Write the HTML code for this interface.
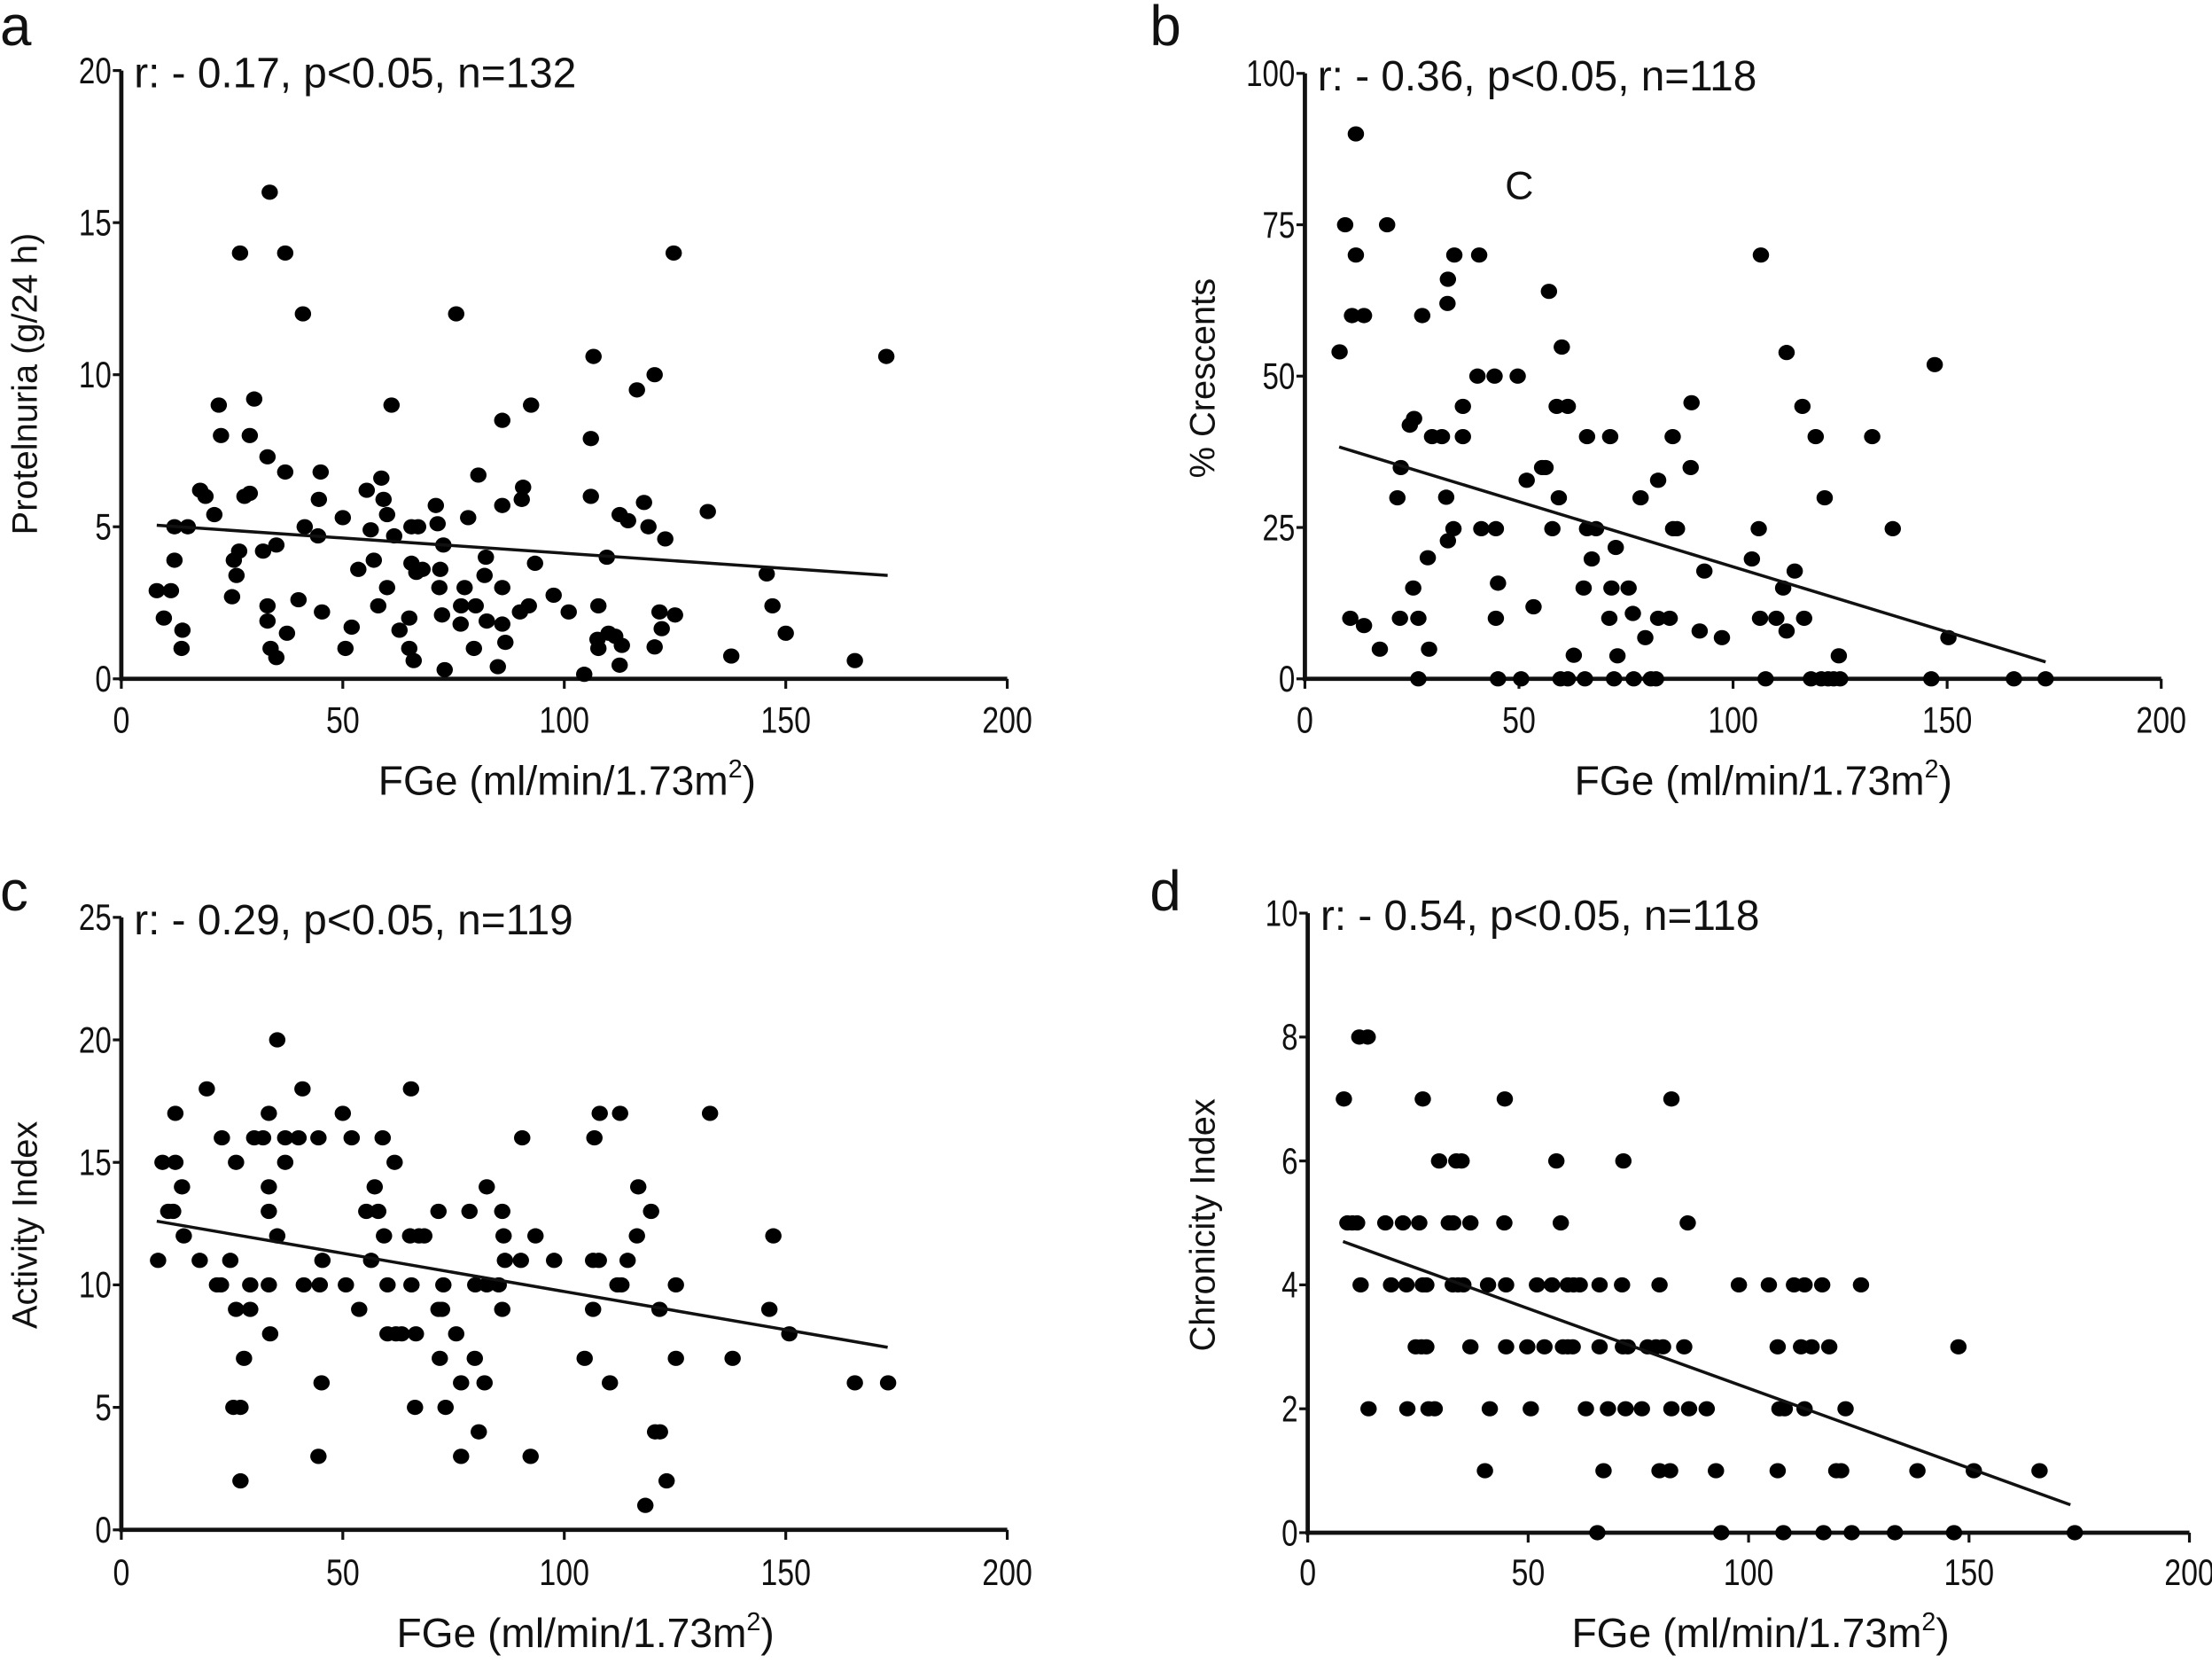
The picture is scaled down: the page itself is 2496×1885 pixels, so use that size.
<!DOCTYPE html>
<html><head><meta charset="utf-8"><style>
html,body{margin:0;padding:0;background:#fff;}
svg{display:block;}
text{font-family:"Liberation Sans",sans-serif;fill:#111;}
</style></head><body>
<svg id="fig" width="2496" height="1885" viewBox="0 0 1568 1184" preserveAspectRatio="none" xmlns="http://www.w3.org/2000/svg"></svg>
<script>
// Panel a: Proteinuria vs FGe
const aX = [8,11.2,9.6,12,12,15,13.8,13.6,17.8,19,21,22,22.5,25,25.4,26,26.6,26.8,27.8,29,29,30,33,32,35,33.5,33,33,33.7,35,37,37,37.4,40,41,41.4,44.4,44.6,45,45.3,50,50.6,52,53.5,55.4,56.3,57,58,58.7,59.2,60,60,61,61.6,62.8,65,65,66,65.5,65.5,66.6,67,68,71,71.4,72,71.8,72.4,72.7,73,76.6,76.7,77.5,75.6,78.3,79.6,80,80.6,82,82.3,82.5,85,86,86,86,86,86.7,90,90.4,90.7,92,92.5,93.4,97.6,101,104.5,106,106,106.6,107.7,107.5,107.7,109.6,110,111.5,112.5,112.5,113,114.4,116.4,118,119,120.4,120.4,121.5,122,122.8,124.7,125,132.4,137.7,145.7,147,150,165.6,172.7];
const aY = [2.9,2.9,2.0,3.9,5.0,5,1.6,1.0,6.2,6.0,5.4,9.0,8.0,2.7,3.9,3.4,4.2,14,6,6.1,8,9.2,7.3,4.2,4.4,16,2.4,1.9,1.0,0.7,14,6.8,1.5,2.6,12,5,4.7,5.9,6.8,2.2,5.3,1.0,1.7,3.6,6.2,4.9,3.9,2.4,6.6,5.9,5.4,3.0,9.0,4.7,1.6,2.0,1.0,0.6,5.0,3.8,3.5,5.0,3.6,5.7,5.1,3.6,3.0,2.1,4.4,0.3,1.8,2.4,3.0,12,5.3,1.0,2.4,6.7,3.4,4.0,1.9,0.4,5.7,3.0,1.8,8.5,1.2,2.2,5.9,6.3,2.4,9,3.8,2.75,2.2,0.15,7.9,6.0,10.6,2.4,1.3,1.0,4.0,1.5,1.4,0.45,5.4,1.1,5.2,9.5,5.8,5.0,10,1.05,2.2,1.65,4.6,14,2.1,5.5,0.75,3.45,2.4,1.5,0.6,10.6];
const aFit = [[8,5.05],[173,3.4]];
const aYTicks = [0,5,10,15,20];
// Panel b: % Crescents
const bX = [11.9,9.4,19.2,11.9,11,13.8,8.1,10.6,13.8,17.5,22.4,21.6,22.2,24.5,25.5,25.3,26.5,26.5,27.4,28.7,29,29.7,32,33.3,33.4,33,33.4,34.7,34.9,36.9,36.9,40.7,40.3,41.2,44.3,44.6,45.1,44.6,45.1,49.7,50.5,51.8,53.4,55.4,56.2,57,57.8,58.8,59.3,60,61.4,59.7,61.4,62.8,65.1,65.4,65.9,65.9,67,68,71.3,71.1,71.6,72.2,72.6,73,75.6,76.8,76.6,78.4,79.5,80.8,82,82.5,82.5,85.2,85.9,86,86.9,90.1,90.3,92.2,93.3,97.4,104.4,106,106.5,106.3,107.6,110.1,111.7,112.5,112.5,114.4,116.2,116.6,118.2,119.3,121.4,120.6,122.2,123.5,124.7,125,132.5,137.3,146.3,147.1,150.3,165.6,173];
const bY = [90,75,75,70,60,60,54,10,8.8,4.9,34.9,29.9,10,41.9,43,15,10,0,60,20,4.9,40,40,62,66,30,22.8,24.8,70,45,40,70,50,24.8,50,24.8,15.8,10,0,50,0,32.8,11.9,34.9,34.9,64,24.8,45,29.9,54.8,45,0,0,3.9,15,0,40,24.8,19.8,24.8,40,10,15,0,21.7,3.8,15,0,10.8,29.9,6.8,0,0,32.8,10,10,40,24.8,24.8,34.9,45.6,7.9,17.8,6.8,19.8,24.8,70,10,0,10,15,7.9,53.9,17.8,45,10,0,40,29.9,0,0,0,3.8,0,40,24.8,0,51.9,6.8,0,0];
const bFit = [[8,38.3],[173,2.8]];
const bYTicks = [0,25,50,75,100];
// Panel c: Activity Index
const cX = [8.3,9.3,12.2,12.2,10.6,11.7,13.7,14.1,17.7,19.3,21.6,22.5,22.7,24.6,25.9,25.9,25.3,26.9,26.9,27.7,29.1,29.1,30,32,33.3,33.3,33.3,33.3,33.6,35.2,35.2,37,37,40,40.9,41.2,44.5,44.8,45.4,45.2,44.5,50,50.7,52,53.7,55.3,56.4,57.2,58,59,59.3,60.1,60.1,61.7,62,63.3,65.4,65.2,65.5,66.5,66.3,67.2,68.4,71.6,71.6,72.4,71.9,72.7,73.2,75.6,76.7,76.7,78.6,79.8,79.9,80.7,82,82.5,82.5,85.2,86,86.3,86,86.6,90.2,90.5,92.4,93.5,97.7,104.6,106.5,106.8,106.5,107.8,108,110.3,112,112.9,112.6,114.3,116.4,116.7,118.3,119.6,120.5,121.6,121.5,123.1,125.2,125.2,132.9,138,146.3,147.2,150.8,165.6,173.1];
const cY = [11,15,15,17,13,13,14,12,11,18,10,10,16,11,15,9,5,5,2,7,10,9,16,16,17,14,13,10,8,20,12,16,15,16,18,10,16,10,11,6,3,17,10,16,9,13,11,14,13,16,12,10,8,15,8,8,18,12,10,8,5,12,12,13,9,9,7,10,5,8,6,3,13,7,10,4,6,14,10,10,13,12,9,11,11,16,3,12,11,7,9,16,11,11,17,6,10,10,17,11,12,14,1,13,4,4,9,2,10,7,17,7,9,12,8,6,6];
const cFit = [[8,12.6],[173,7.45]];
const cYTicks = [0,5,10,15,20,25];
// Panel d: Chronicity Index
const dX = [8.2,26.1,44.7,82.5,11.7,13.6,29.8,33.7,34.9,56.4,71.6,9,10.1,11.2,17.6,21.6,25.3,32,33,36.9,44.6,57.4,86.2,12,18.9,22.4,26.1,26.9,32.9,34.1,35.3,40.9,45,52,55.4,59,60.3,61.7,66.2,71.3,79.8,97.8,104.6,110.3,112.7,116.7,125.5,24.5,25.8,26.9,36.9,45,49.8,53.7,57.9,59,60.1,66.2,71.5,72.6,77.1,79,80.6,85.4,106.6,111.9,114.3,118.3,147.6,13.8,22.6,27.4,28.8,41.3,50.6,63.1,68.1,72.1,75.8,82.5,86.5,90.5,107,108.2,112.7,122,40.2,67.1,79.8,82.2,92.6,106.6,119.9,121,138.3,151.1,166,65.7,93.8,107.9,117,123.4,133.2,146.6,174];
const dY = [7,7,7,7,8,8,6,6,6,6,6,5,5,5,5,5,5,5,5,5,5,5,5,4,4,4,4,4,4,4,4,4,4,4,4,4,4,4,4,4,4,4,4,4,4,4,4,3,3,3,3,3,3,3,3,3,3,3,3,3,3,3,3,3,3,3,3,3,3,2,2,2,2,2,2,2,2,2,2,2,2,2,2,2,2,2,1,1,1,1,1,1,1,1,1,1,1,0,0,0,0,0,0,0,0];
const dFit = [[8,4.7],[173,0.45]];
const dYTicks = [0,2,4,6,8,10];
const xTicks = [0,50,100,150,200];

const NS = 'http://www.w3.org/2000/svg';
const svg = document.getElementById('fig');
function mk(tag, attrs, parent){
  const e = document.createElementNS(NS, tag);
  for (const k in attrs) e.setAttribute(k, attrs[k]);
  (parent||svg).appendChild(e);
  return e;
}
function panel(p){
  const g = mk('g', {});
  
  
  const sx = v => p.x0 + (v / 200) * (p.x1 - p.x0);
  const sy = v => p.y0 - (v / p.ymax) * (p.y0 - p.y1);
  const ya = mk('line', {x1:p.x0, y1:p.y1, x2:p.x0, y2:p.y0+1.5, stroke:'#111', 'stroke-width':3}, g);
  
  
  const xa = mk('line', {x1:p.x0-1.5, y1:p.y0, x2:p.x1, y2:p.y0, stroke:'#111', 'stroke-width':3}, g);
  
  
  p.yt.forEach(v => {
    mk('line', {x1:p.x0-6, y1:sy(v), x2:p.x0, y2:sy(v), stroke:'#111', 'stroke-width':2}, g);
    const t = mk('text', {x:0, y:0, 'font-size':26, 'text-anchor':'end', transform:'translate('+(p.x0-7)+','+(sy(v)+9)+') scale(0.8,1)'}, g);
    
    
    t.textContent = v;
  });
  xTicks.forEach(v => {
    mk('line', {x1:sx(v), y1:p.y0, x2:sx(v), y2:p.y0+7, stroke:'#111', 'stroke-width':2}, g);
    const t = mk('text', {x:0, y:0, 'font-size':26, 'text-anchor':'middle', transform:'translate('+sx(v)+','+p.xtY+') scale(0.82,1)'}, g);
    
    
    t.textContent = v;
  });
  p.xs.forEach((xv, i) => {
    const c = mk('ellipse', {cx:sx(xv), cy:sy(p.ys[i]), rx:5.8, ry:5.4, fill:'#000'}, g);
    
    
  });
  const fl = mk('line', {x1:sx(p.fit[0][0]), y1:sy(p.fit[0][1]), x2:sx(p.fit[1][0]), y2:sy(p.fit[1][1]), stroke:'#111', 'stroke-width':2.2}, g);
  
  
  const L = mk('text', {x:p.lx, y:p.ly, 'font-size':40}, g);
  
  
  L.textContent = p.id;
  const T = mk('text', {x:p.x0+9, y:p.y1+12, 'font-size':30}, g);
  
  
  T.textContent = p.stat;
  const X = mk('text', {x:p.xtx, y:p.xtY+44, 'font-size':29, 'text-anchor':'middle'}, g);
  
  
  X.innerHTML = 'FGe (ml/min/1.73m<tspan dy="-12" font-size="18">2</tspan><tspan dy="12">)</tspan>';
  const Y = mk('text', {x:0, y:0, 'font-size':25, 'text-anchor':'middle', transform:'translate('+p.ytx+','+p.yty+') rotate(-90)'}, g);
  
  
  Y.textContent = p.ytitle;
}
panel({id:'a', x0:86, x1:714, y0:481, y1:50, ymax:20, yt:aYTicks, xs:aX, ys:aY, fit:aFit, xtY:519, xtx:402, lx:0, ly:32, stat:'r: - 0.17, p<0.05, n=132', ytitle:'Protelnuria (g/24 h)', ytx:26, yty:272});
panel({id:'b', x0:925, x1:1532, y0:481, y1:52, ymax:100, yt:bYTicks, xs:bX, ys:bY, fit:bFit, xtY:519, xtx:1250, lx:815, ly:32, stat:'r: - 0.36, p<0.05, n=118', ytitle:'% Crescents', ytx:861, yty:268});
panel({id:'c', x0:86, x1:714, y0:1084, y1:650, ymax:25, yt:cYTicks, xs:cX, ys:cY, fit:cFit, xtY:1123, xtx:415, lx:0, ly:645, stat:'r: - 0.29, p<0.05, n=119', ytitle:'Activity Index', ytx:26, yty:868});
panel({id:'d', x0:927, x1:1552, y0:1086, y1:647, ymax:10, yt:dYTicks, xs:dX, ys:dY, fit:dFit, xtY:1123, xtx:1248, lx:815, ly:645, stat:'r: - 0.54, p<0.05, n=118', ytitle:'Chronicity Index', ytx:861, yty:868});
const C = mk('text', {x:1077, y:141, 'font-size':28, 'text-anchor':'middle'});


C.textContent = 'C';
</script>
</body></html>
